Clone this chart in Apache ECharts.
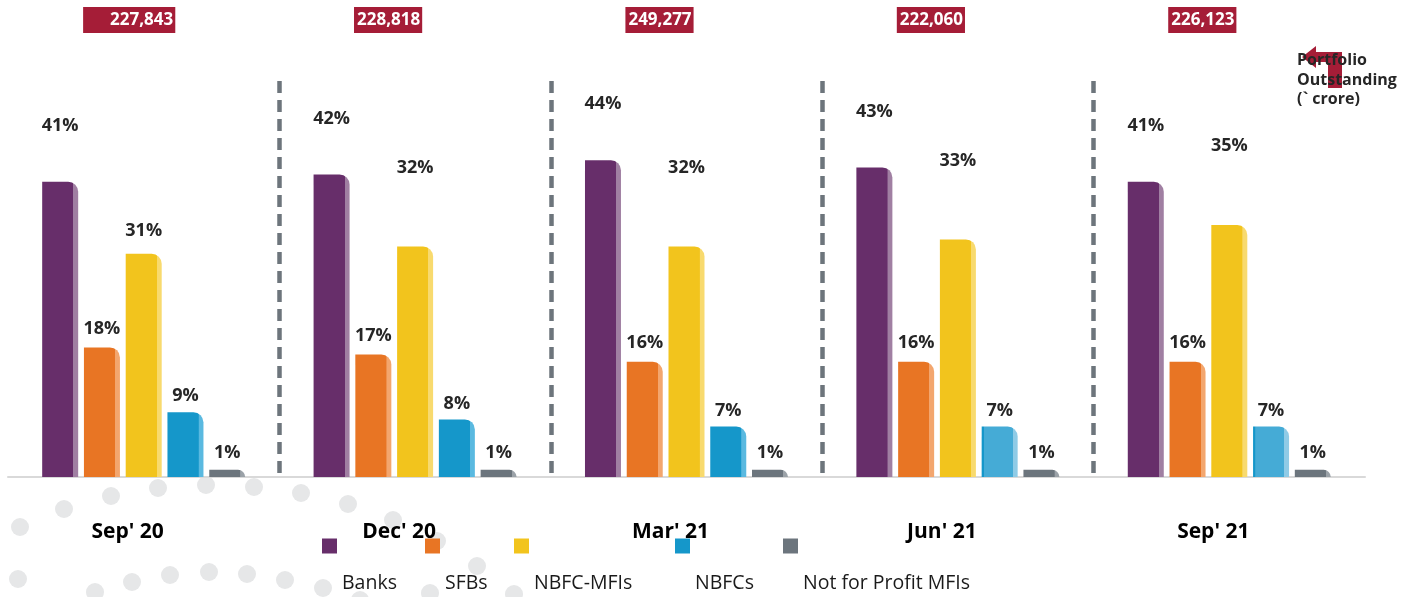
<!DOCTYPE html>
<html>
<head>
<meta charset="utf-8">
<script src="https://cdn.jsdelivr.net/npm/echarts@6/dist/echarts.min.js"></script>
<style>
  html, body { margin: 0; padding: 0; background: #fff; }
  #main { width: 1417px; height: 597px; }
</style>
</head>
<body>
<div id="main"></div>
<script>
var periods = ["Sep' 20", "Dec' 20", "Mar' 21", "Jun' 21", "Sep' 21"];
var outstanding = ['227,843', '228,818', '249,277', '222,060', '226,123'];
var banks = [41, 42, 44, 43, 41];
var sfbs = [18, 17, 16, 16, 16];
var nbfcMfis = [31, 32, 32, 33, 35];
var nbfcs = [9, 8, 7, 7, 7];
var notForProfit = [1, 1, 1, 1, 1];

var FONT = '"Open Sans", "Noto Sans", sans-serif';

// base colour + lighter right edge, like the 3d-ish bars of the original
function barFill(base, light) {
    return new echarts.graphic.LinearGradient(0, 0, 1, 0, [
        {offset: 0, color: base}, {offset: 0.86, color: base},
        {offset: 0.87, color: light}, {offset: 1, color: light}
    ]);
}
var lightBlue = new echarts.graphic.LinearGradient(0, 0, 1, 0, [
    {offset: 0, color: '#1597ca'}, {offset: 0.06, color: '#1597ca'},
    {offset: 0.07, color: '#45abd6'}, {offset: 0.86, color: '#45abd6'},
    {offset: 0.87, color: '#8fcbe6'}, {offset: 1, color: '#8fcbe6'}
]);

var seriesDefs = [
    {name: 'Banks', data: banks, base: '#672e6a', light: '#a07fa2', dist: 47, legW: 83},
    {name: 'SFBs', data: sfbs, base: '#e87524', light: '#f3a66e', dist: 10, legW: 69},
    {name: 'NBFC-MFIs', data: nbfcMfis, base: '#f2c41d', light: '#f8da6e', dist: 70, legW: 141},
    {name: 'NBFCs', data: nbfcs, base: '#1597ca', light: '#5ab9e0', dist: 7, legW: 88},
    {name: 'Not for Profit MFIs', data: notForProfit, base: '#6c757d', light: '#9ba2a8', dist: 8, legW: 180}
];

var series = seriesDefs.map(function (s) {
    var items = s.data.map(function (v, i) {
        var item = {value: v};
        if (s.name === 'NBFC-MFIs' && i === 0) item.label = {distance: 14};
        if (s.name === 'NBFCs' && i >= 3) item.itemStyle = {color: lightBlue};
        return item;
    });
    return {
        name: s.name,
        type: 'bar',
        barWidth: 36,
        barGap: '16%',
        data: items,
        itemStyle: {color: barFill(s.base, s.light), borderRadius: [0, 10, 0, 0]},
        label: {
            show: true, position: 'top', distance: s.dist,
            formatter: '{c}%', fontFamily: FONT, fontSize: 18,
            fontWeight: 'bold', color: '#262626'
        }
    };
});

// legend text styles, one per item so the uneven spacing of the original is kept
var legendRich = {e: {lineHeight: 74, fontSize: 2}};
seriesDefs.forEach(function (s, i) {
    legendRich['t' + i] = {fontFamily: FONT, fontSize: 19.5, color: '#1a1a1a', lineHeight: 20, width: s.legW};
});

// decorative grey dots bottom-left
var dots = [
    [20, 527], [64, 509], [111, 496], [158, 488], [206, 485], [254, 487], [301, 493],
    [348, 504], [393, 520], [437, 541], [477, 566], [514, 594],
    [18, 579], [95, 592], [132, 582], [170, 575], [209, 572], [247, 574], [285, 580],
    [323, 588], [360, 600], [430, 593]
].map(function (p) {
    return {type: 'circle', z: -1, shape: {cx: p[0], cy: p[1], r: 9}, style: {fill: '#e6e7e8'}};
});

var myChart = echarts.init(document.getElementById('main'));

var option = {
    animation: false,
    grid: {left: 8, right: 52, top: 81, bottom: 120},
    legend: {
        selectedMode: false,
        left: 322, top: 535, padding: 0,
        itemWidth: 15, itemHeight: 15, itemGap: 0,
        icon: 'rect',
        // names sit under and right of the squares: empty tall first line pushes them down
        formatter: function (name) {
            var i = seriesDefs.map(function (s) { return s.name; }).indexOf(name);
            return '{e| }\n{t' + i + '|' + name + '}';
        },
        textStyle: {rich: legendRich},
        data: seriesDefs.map(function (s) {
            return {name: s.name, itemStyle: {color: s.base}};
        })
    },
    xAxis: [
        {
            type: 'category', data: periods,
            axisLine: {lineStyle: {color: '#d9d9d9', width: 2}},
            axisTick: {show: false},
            axisLabel: {
                margin: 45, padding: [0, 32, 0, 0],
                fontFamily: FONT, fontSize: 21, fontWeight: 'bold', color: '#000'
            }
        },
        {
            type: 'category', position: 'top', data: outstanding,
            axisLine: {show: false}, axisTick: {show: false},
            axisLabel: {
                margin: 48,
                formatter: function (v, i) {
                    return i === 0 ? '{b0|' + v + '}{s0| }' : '{b|' + v + '}{s| }';
                },
                rich: {
                    b: {backgroundColor: '#a51d37', color: '#fff', fontFamily: FONT, fontSize: 17,
                        fontWeight: 'bold', padding: [5, 2, 4, 3]},
                    b0: {backgroundColor: '#a51d37', color: '#fff', fontFamily: FONT, fontSize: 17,
                        fontWeight: 'bold', padding: [5, 2, 4, 27]},
                    s: {width: 54},
                    s0: {width: 29}
                }
            }
        },
        {
            // only used for the dashed separators between periods
            type: 'value', min: 0, max: 5, interval: 1,
            axisLine: {show: false}, axisTick: {show: false}, axisLabel: {show: false},
            splitLine: {
                show: true, showMinLine: false, showMaxLine: false,
                lineStyle: {color: '#6d757c', width: 4.5, type: [12, 7]}
            }
        }
    ],
    yAxis: {type: 'value', min: 0, max: 55, show: false},
    graphic: dots.concat([
        {
            type: 'polygon', z: 5,
            shape: {points: [[1302, 57], [1316, 46], [1316, 52], [1342, 52], [1342, 88],
                [1328, 88], [1328, 62], [1316, 62], [1316, 68]]},
            style: {fill: '#a51d37'}
        },
        {
            type: 'text', z: 6, left: 1297, top: 51,
            style: {
                text: 'Portfolio\nOutstanding\n(` crore)',
                font: 'bold 16px "Open Sans"', lineHeight: 19.5, fill: '#262626'
            }
        }
    ]),
    series: series
};

myChart.setOption(option);
</script>
</body>
</html>
